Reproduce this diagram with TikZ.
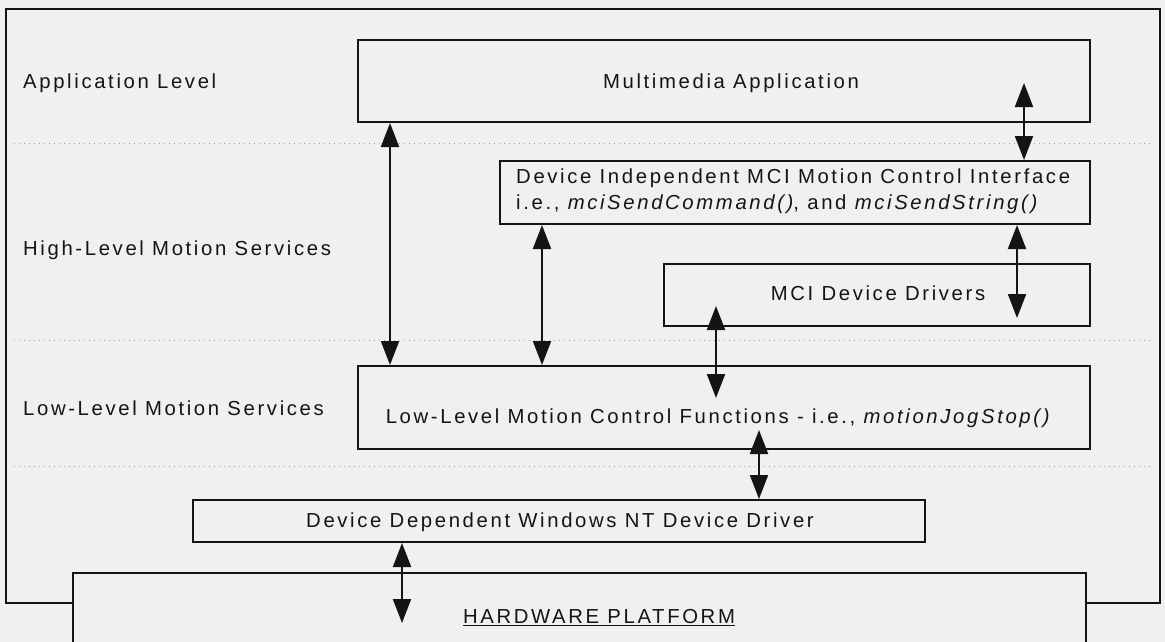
\documentclass[tikz,border=0pt]{standalone}
\usepackage{fontspec}
\setmainfont{Liberation Sans}[LetterSpace=13]
\usetikzlibrary{arrows.meta}
\definecolor{bg}{RGB}{240,240,240}
\definecolor{ink}{RGB}{20,20,20}
\tikzset{
  box/.style={draw=ink, line width=2pt, fill=bg, inner sep=0pt},
  lbl/.style={font=\fontsize{20.3}{26}\selectfont, text=ink, inner sep=0pt},
  biarrow/.style={{Triangle[width=18pt,length=24pt]}-{Triangle[width=18pt,length=24pt]}, line width=2pt, draw=ink},
  sep/.style={draw=gray!75, line width=0.8pt, dash pattern=on 1pt off 4pt},
  frame/.style={draw=ink, line width=2pt}
}
\begin{document}
\begin{tikzpicture}[x=1pt,y=-1pt]
\fill[bg] (0,0) rectangle (1165,642);
\useasboundingbox (0,0) rectangle (1165,642);
\clip (0,0) rectangle (1165,642);

% level separators
\draw[sep] (14,143) -- (1152,143);
\draw[sep] (14,340) -- (1152,340);
\draw[sep] (14,466) -- (1152,466);

% boxes
\node[box, minimum width=732pt, minimum height=82pt] (mm)  at (724,81) {};
\node[box, minimum width=590pt, minimum height=63pt] (ifc) at (795,192.5) {};
\node[box, minimum width=426pt, minimum height=62pt] (drv) at (877,295) {};
\node[box, minimum width=732pt, minimum height=83pt] (ll)  at (724,407.5) {};
\node[box, minimum width=732pt, minimum height=42pt] (dd)  at (559,521) {};
\node[box, minimum width=1013pt, minimum height=140pt] (hw) at (579.5,643) {};

% outer frame
\draw[frame] (73,603) -- (6,603) -- (6,9) -- (1160,9) -- (1160,603) -- (1086,603);

% level labels
\node[lbl, anchor=west] (tApp)  at (23,83)  {Application Level};
\node[lbl, anchor=west] (tHigh) at (23,250) {High-Level Motion Services};
\node[lbl, anchor=west] (tLow)  at (23,408) {Low-Level Motion Services};

% box texts
\node[lbl] (tmm) at (731,83) {Multimedia Application};
\node[lbl, anchor=west, align=left] (tifc) at (516,191) {Device Independent MCI Motion Control Interface\\i.e., \textit{mciSendCommand()}, and \textit{mciSendString()}};
\node[lbl] (tdrv) at (878,293) {MCI Device Drivers};
\node[lbl] (tll) at (719,418) {Low-Level Motion Control Functions - i.e., \textit{motionJogStop()}};
\node[lbl] (tdd) at (560,522) {Device Dependent Windows NT Device Driver};
\node[lbl] (thw) at (599,618) {\underline{HARDWARE PLATFORM}};

% arrow anchors
\coordinate (x1) at (390,0);
\coordinate (x2) at (542,0);
\coordinate (a3) at (1024,83);
\coordinate (a4) at (1017,318);
\coordinate (a5s) at (716,306);
\coordinate (a5e) at (716,398);
\coordinate (a6) at (759,430);
\coordinate (a7) at (402,623);

% connectors
\draw[biarrow] (mm.south -| x1) -- (ll.north -| x1);
\draw[biarrow] (ifc.south -| x2) -- (ll.north -| x2);
\draw[biarrow] (a3) -- (ifc.north -| a3);
\draw[biarrow] (ifc.south -| a4) -- (a4);
\draw[biarrow] (a5s) -- (a5e);
\draw[biarrow] (a6) -- (dd.north -| a6);
\draw[biarrow] (dd.south -| a7) -- (a7);
\end{tikzpicture}
\end{document}
